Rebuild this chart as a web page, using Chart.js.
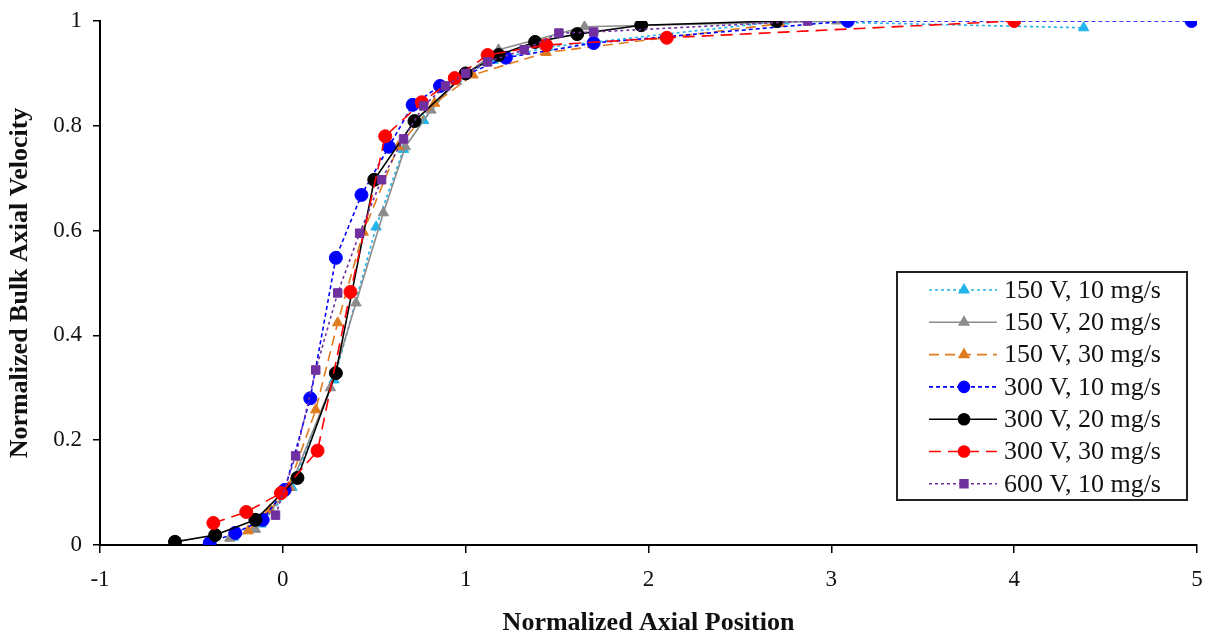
<!DOCTYPE html>
<html>
<head>
<meta charset="utf-8">
<script src="https://cdn.jsdelivr.net/npm/chart.js@4.4.1/dist/chart.umd.min.js"></script>
<style>
  html, body { margin: 0; padding: 0; background: #fff; }
  #wrap { width: 1209px; height: 636px; position: relative; }
</style>
</head>
<body>
<div id="wrap"><canvas id="velChart"></canvas></div>
<script>
// Normalized bulk axial velocity vs normalized axial position

const seriesNames = [
  '150 V, 10 mg/s', '150 V, 20 mg/s', '150 V, 30 mg/s',
  '300 V, 10 mg/s', '300 V, 20 mg/s', '300 V, 30 mg/s',
  '600 V, 10 mg/s'
];

// x positions and y values per series
const x150v10 = [-0.27, -0.12, 0.05, 0.28, 0.51, 0.66, 0.77, 0.95, 1.15, 1.45, 2.74, 4.38];
const y150v10 = [0.015, 0.04, 0.11, 0.315, 0.607, 0.755, 0.81, 0.89, 0.925, 0.95, 1.0, 0.987];

const x150v20 = [-0.29, -0.15, 0.04, 0.26, 0.40, 0.55, 0.67, 0.81, 0.95, 1.18, 1.65, 3.03];
const y150v20 = [0.013, 0.03, 0.11, 0.30, 0.462, 0.634, 0.76, 0.83, 0.885, 0.945, 0.989, 1.0];

const x150v30 = [-0.19, -0.07, 0.03, 0.18, 0.30, 0.44, 0.63, 0.83, 1.04, 1.44, 2.72];
const y150v30 = [0.027, 0.067, 0.11, 0.258, 0.424, 0.597, 0.76, 0.843, 0.897, 0.94, 0.995];

const x300v10 = [-0.40, -0.26, -0.11, 0.01, 0.15, 0.29, 0.43, 0.58, 0.71, 0.86, 1.22, 1.70, 3.09, 4.97];
const y300v10 = [0.004, 0.023, 0.048, 0.105, 0.28, 0.548, 0.668, 0.76, 0.84, 0.876, 0.93, 0.958, 1.0, 1.0];

const x300v20 = [-0.59, -0.37, -0.15, 0.08, 0.29, 0.50, 0.72, 1.0, 1.18, 1.38, 1.61, 1.96, 2.70];
const y300v20 = [0.006, 0.019, 0.048, 0.128, 0.328, 0.697, 0.809, 0.90, 0.935, 0.96, 0.975, 0.992, 1.0];

const x300v30 = [-0.38, -0.20, -0.01, 0.19, 0.37, 0.56, 0.76, 0.94, 1.12, 1.44, 2.10, 4.0];
const y300v30 = [0.042, 0.063, 0.099, 0.18, 0.483, 0.78, 0.845, 0.891, 0.935, 0.954, 0.968, 1.0];

const x600v10 = [-0.04, 0.07, 0.18, 0.30, 0.42, 0.54, 0.66, 0.77, 0.89, 1.0, 1.12, 1.32, 1.51, 1.70, 2.87];
const y600v10 = [0.057, 0.17, 0.334, 0.481, 0.595, 0.697, 0.775, 0.838, 0.876, 0.90, 0.922, 0.945, 0.977, 0.979, 1.0];

const xTicks = [-1, 0, 1, 2, 3, 4, 5];
const yTicks = [0, 0.2, 0.4, 0.6, 0.8, 1];

const xs = [x150v10, x150v20, x150v30, x300v10, x300v20, x300v30, x600v10];
const ys = [y150v10, y150v20, y150v30, y300v10, y300v20, y300v30, y600v10];

// look of each series (Excel-ish)
const colors = ['#22b5ec', '#8c8c8c', '#e07b1f', '#0000ff', '#000000', '#ff0000', '#7030a0'];
const dashes = [[3, 3], [], [10, 6], [4, 3], [], [12, 7], [3, 3]];
const markers = ['triangle', 'triangle', 'triangle', 'circle', 'circle', 'circle', 'rect'];

const datasets = seriesNames.map((name, i) => ({
  label: name,
  data: xs[i].map((x, k) => ({ x: x, y: ys[i][k] })),
  borderColor: colors[i],
  backgroundColor: colors[i],
  borderWidth: 1.6,
  borderDash: dashes[i],
  pointStyle: markers[i],
  pointRadius: markers[i] === 'circle' ? 6.5 : 6,
  pointBorderWidth: 1,
  showLine: true,
  tension: 0,
  order: 6 - i
}));

// legend box drawn inside the plot area, lower right
const boxLegend = {
  id: 'boxLegend',
  afterDraw(chart) {
    const c = chart.ctx;
    const left = 897, top = 272, w = 290, h = 228;
    c.save();
    c.fillStyle = '#fff';
    c.fillRect(left, top, w, h);
    c.strokeStyle = '#222';
    c.lineWidth = 2;
    c.strokeRect(left, top, w, h);
    c.font = '26px "Liberation Serif", serif';
    c.textBaseline = 'middle';
    chart.data.datasets.forEach((ds, i) => {
      const y = top + 18 + i * 32.3;
      c.strokeStyle = ds.borderColor;
      c.lineWidth = 1.6;
      c.setLineDash(ds.borderDash);
      c.beginPath();
      c.moveTo(left + 32, y);
      c.lineTo(left + 100, y);
      c.stroke();
      c.setLineDash([]);
      c.fillStyle = ds.backgroundColor;
      Chart.helpers.drawPoint(c, {
        pointStyle: ds.pointStyle, radius: 5.5, borderWidth: 1, rotation: 0
      }, left + 67, y);
      c.fillStyle = '#111';
      c.fillText(ds.label, left + 107, y + 1);
    });
    c.restore();
  }
};

Chart.defaults.font.family = '"Liberation Serif", serif';
Chart.defaults.color = '#111';

new Chart(document.getElementById('velChart'), {
  type: 'line',
  data: { datasets: datasets },
  options: {
    responsive: true,
    maintainAspectRatio: false,
    animation: false,
    layout: { padding: { top: 21, right: 12, left: 0, bottom: 0 } },
    scales: {
      x: {
        type: 'linear',
        min: -1, max: 5,
        afterBuildTicks: (axis) => { axis.ticks = xTicks.map(v => ({ value: v })); },
        afterFit: (axis) => {
          axis.height = 91;
          axis.paddingLeft = 0;
          axis.paddingRight = 0;
        },
        grid: { drawOnChartArea: false, color: '#000', tickLength: 8, lineWidth: 1.5 },
        border: { color: '#000', width: 2 },
        ticks: { font: { size: 23 }, padding: 13, maxRotation: 0 },
        title: {
          display: true, text: 'Normalized Axial Position',
          font: { size: 26, weight: 'bold', lineHeight: 1 }, padding: { top: 0, bottom: 0 }
        }
      },
      y: {
        min: 0, max: 1,
        afterBuildTicks: (axis) => { axis.ticks = yTicks.map(v => ({ value: v })); },
        afterFit: (axis) => {
          axis.width = 100;
          axis.paddingTop = 0;
          axis.paddingBottom = 0;
        },
        grid: { drawOnChartArea: false, color: '#000', tickLength: 7, lineWidth: 1.5 },
        border: { color: '#000', width: 2 },
        ticks: { font: { size: 23 }, padding: 11, callback: (v) => String(+v.toFixed(1)) },
        title: {
          display: true, text: 'Normalized Bulk Axial Velocity',
          font: { size: 26, weight: 'bold', lineHeight: 1 }, padding: { top: 7, bottom: 0 }
        }
      }
    },
    plugins: {
      legend: { display: false },
      tooltip: { enabled: false }
    }
  },
  plugins: [boxLegend]
});
</script>
</body>
</html>
